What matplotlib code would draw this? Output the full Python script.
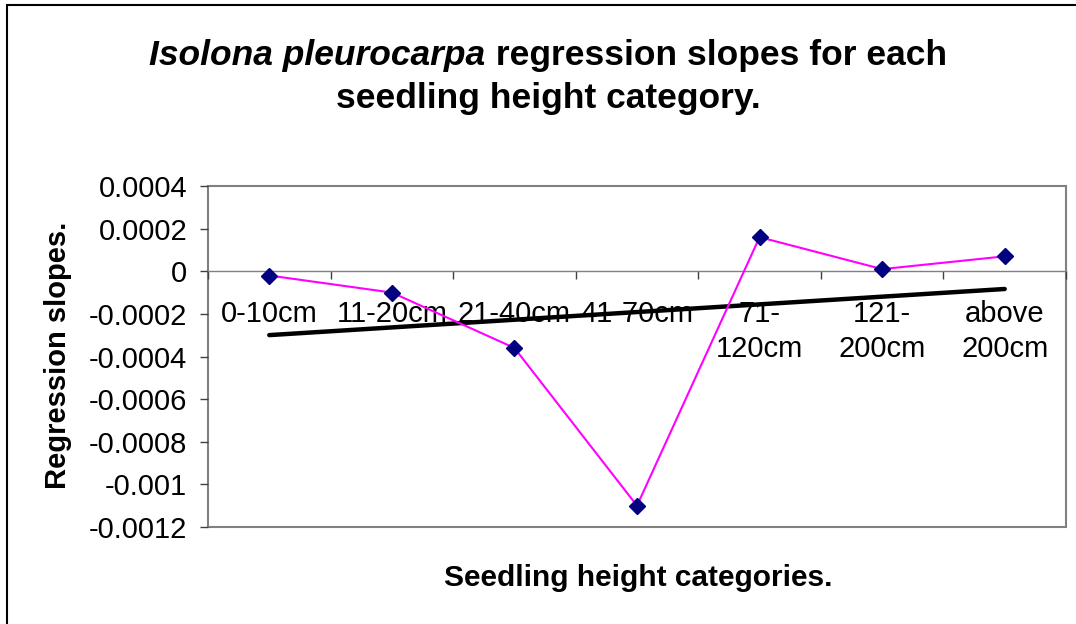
import numpy as np
import matplotlib
matplotlib.use("Agg")
import matplotlib.pyplot as plt
from matplotlib.patches import Rectangle
from matplotlib.ticker import FixedLocator, FuncFormatter

plt.rcParams['font.family'] = ['Liberation Sans', 'DejaVu Sans']

# data
categories = ["0-10cm", "11-20cm", "21-40cm", "41-70cm", "71-\n120cm", "121-\n200cm", "above\n200cm"]
slopes = [-0.00002, -0.0001, -0.00036, -0.0011, 0.00016, 0.00001, 0.00007]
y_ticks = [0.0004, 0.0002, 0, -0.0002, -0.0004, -0.0006, -0.0008, -0.001, -0.0012]

W, H = 1076, 624
fig = plt.figure(figsize=(W / 100, H / 100), dpi=100)
ax = fig.add_axes([208 / W, 1 - 527 / H, (1066 - 208) / W, (527 - 186) / H])

x = np.arange(1, len(categories) + 1)

# linear trendline (Excel style) fitted to the series
coef = np.polyfit(x, slopes, 1)
ax.plot(x, np.polyval(coef, x), color="black", lw=3.2, solid_capstyle="round", zorder=2)

ax.plot(x, slopes, color="#FF00FF", lw=1.5, marker="D", markersize=8,
        markerfacecolor="#000080", markeredgecolor="#000080", zorder=3)

ax.set_xlim(0.5, 7.5)
ax.set_ylim(-0.0012, 0.0004)

# frame
for s in ["top", "right", "left"]:
    ax.spines[s].set_visible(False)
ax.add_patch(Rectangle((0, 0), 1, 1, transform=ax.transAxes, fill=False,
                       edgecolor="#808080", lw=1.5, zorder=1, clip_on=False))
ax.spines["bottom"].set_position(("data", 0))
ax.spines["bottom"].set_color("#808080")
ax.spines["bottom"].set_linewidth(1.0)

# y axis
ax.yaxis.set_major_locator(FixedLocator(y_ticks))
ax.yaxis.set_major_formatter(FuncFormatter(lambda v, p: f"{round(v, 6):g}"))
ax.tick_params(axis="y", direction="out", length=6, width=1, pad=9, labelsize=21, color="#404040")

# x axis: ticks between categories, labels at category centers
ax.xaxis.set_major_locator(FixedLocator(np.arange(0.5, 8, 1)))
ax.xaxis.set_major_formatter(FuncFormatter(lambda v, p: ""))
ax.xaxis.set_minor_locator(FixedLocator(x))
ax.set_xticklabels(categories, minor=True)
ax.tick_params(axis="x", which="major", direction="out", length=6, width=1, color="#404040")
ax.tick_params(axis="x", which="minor", length=0, pad=21, labelsize=21)
for lab in ax.get_xticklabels(minor=True):
    lab.set_linespacing(1.3)
    lab.set_multialignment("center")

# title with italic species name
fig.canvas.draw()
r = fig.canvas.get_renderer()
t1 = fig.text(0, 1 - 65 / H, "Isolona pleurocarpa", fontsize=25.5, fontweight="bold",
              fontstyle="italic", ha="left", va="baseline")
t2 = fig.text(0, 1 - 65 / H, " regression slopes for each", fontsize=25.5, fontweight="bold",
              ha="left", va="baseline")
w1 = t1.get_window_extent(r).width
w2 = t2.get_window_extent(r).width
x0 = 548 - (w1 + w2) / 2
t1.set_x(x0 / W)
t2.set_x((x0 + w1) / W)
fig.text(548 / W, 1 - 108 / H, "seedling height category.", fontsize=25.5, fontweight="bold",
         ha="center", va="baseline")

fig.text(58 / W, 1 - 355 / H, "Regression slopes.", fontsize=21, fontweight="bold",
         rotation=90, ha="center", va="center")
fig.text(638 / W, 1 - 578 / H, "Seedling height categories.", fontsize=21.5, fontweight="bold",
         ha="center", va="center")

# outer chart border
fig.add_artist(Rectangle((7 / W, -0.1), 1.2, 1.1 - 5 / H, transform=fig.transFigure,
                         fill=False, edgecolor="black", lw=1.5))

fig.savefig("out.png", dpi=100)
